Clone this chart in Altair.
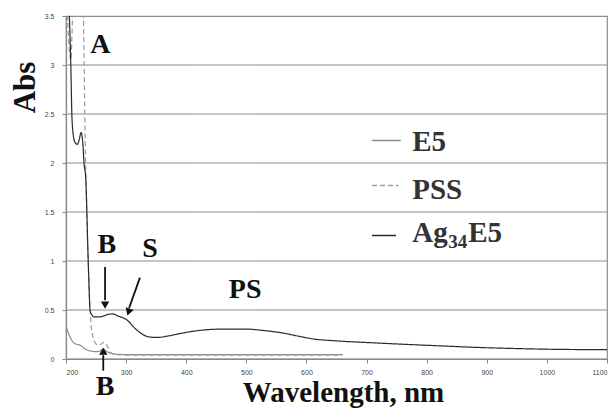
import altair as alt
import pandas as pd

# ---- data ----
ag_nm = [200, 205, 208, 210, 213, 216, 219, 222, 225, 228, 230, 233, 236, 238, 240, 243, 247,
         255, 263, 270, 278, 286, 295, 303, 312, 323, 338, 352, 370, 390, 420, 460, 500, 530,
         556, 585, 611, 650, 711, 800, 900, 960, 1000, 1100]
ag_abs = [4.0, 3.6, 3.0, 2.45, 2.25, 2.2, 2.19, 2.24, 2.31, 2.2, 2.0, 1.83, 1.2, 0.8, 0.5, 0.45, 0.43,
          0.43, 0.44, 0.455, 0.46, 0.44, 0.42, 0.39, 0.33, 0.27, 0.225, 0.22, 0.235, 0.26, 0.29, 0.305, 0.305, 0.29,
          0.27, 0.235, 0.205, 0.185, 0.165, 0.14, 0.115, 0.105, 0.1, 0.095]

e5_nm = [200, 203, 207, 212, 218, 224, 230, 236, 242, 250, 256, 262, 268, 274, 282, 300, 400, 500, 600, 660]
e5_abs = [0.33, 0.28, 0.22, 0.17, 0.15, 0.14, 0.11, 0.09, 0.08, 0.075, 0.08, 0.1, 0.075, 0.06, 0.05,
          0.045, 0.045, 0.045, 0.045, 0.045]

pss_nm = [200, 204, 208, 211, 214, 226, 229, 232, 235, 238, 241, 244, 248, 253, 258, 263, 268, 274,
          282, 300, 400, 500, 600, 660]
pss_abs = [4.0, 3.3, 3.05, 3.5, 4.0, 4.0, 3.5, 2.2, 1.4, 0.8, 0.4, 0.25, 0.17, 0.14, 0.15, 0.17, 0.14,
           0.07, 0.045, 0.04, 0.04, 0.04, 0.04, 0.04]

series_names = ["E5", "PSS", "Ag34E5"]
series_colors = ["#8a8a8a", "#9a9a9a", "#2a2a2a"]
series_dash = [[1, 0], [5, 3], [1, 0]]

y_ticks = [0, 0.5, 1, 1.5, 2, 2.5, 3, 3.5]
x_ticks = [200, 300, 400, 500, 600, 700, 800, 900, 1000, 1100]
x_range = [200, 1100]

# gridlines are drawn as extra grey series of the same line mark, one per y tick
grid_names = ["grid%d" % i for i in range(len(y_ticks))]

rows = []
for gname, yv in zip(grid_names, y_ticks):
    for i, xv in enumerate(x_range):
        rows.append({"series": gname, "nm": xv, "absv": yv, "order": i})
for name, xs, ys in [("E5", e5_nm, e5_abs), ("PSS", pss_nm, pss_abs), ("Ag34E5", ag_nm, ag_abs)]:
    for i, (a, b) in enumerate(zip(xs, ys)):
        rows.append({"series": name, "nm": a, "absv": b, "order": i})
df = pd.DataFrame(rows)

all_names = grid_names + series_names
all_colors = ["#8c8c8c"] * len(grid_names) + series_colors
all_dash = [[1, 0]] * len(grid_names) + series_dash

x_scale = alt.Scale(domain=[200, 1100], nice=False, zero=False)
y_scale = alt.Scale(domain=[0, 3.5], nice=False, zero=False)

X = alt.X("nm:Q", scale=x_scale, title="Wavelength, nm", axis=alt.Axis(values=x_ticks, format="d"))
Y = alt.Y("absv:Q", scale=y_scale, title="Abs", axis=alt.Axis(values=y_ticks, format="~g"))

color_enc = alt.Color("series:N", scale=alt.Scale(domain=all_names, range=all_colors), legend=None)
dash_enc = alt.StrokeDash("series:N", scale=alt.Scale(domain=all_names, range=all_dash), legend=None)
width_enc = alt.StrokeWidth("series:N", scale=alt.Scale(domain=all_names,
                            range=[1.2] * len(grid_names) + [1.6, 1.6, 1.6]), legend=None)

lines = alt.Chart(df).mark_line(clip=True, interpolate="monotone").encode(
    x=X, y=Y, color=color_enc, strokeDash=dash_enc, strokeWidth=width_enc,
    order="order:Q", detail="series:N")

# ---- annotations (data coordinates) ----
labels_df = pd.DataFrame({
    "txt": ["A", "B", "S", "PS", "B"],
    "nm": [257, 268, 340, 498, 265],
    "absv": [3.2, 1.16, 1.12, 0.70, -0.29],
})
labels = alt.Chart(labels_df).mark_text(
    font="Liberation Serif", fontSize=28, fontWeight="bold", color="#111",
    baseline="middle", align="center", clip=False
).encode(x=X, y=Y, text="txt:N")

arrows_df = pd.DataFrame({
    "nm": [265, 323, 262],
    "absv": [0.94, 0.83, -0.12],
    "x2": [265, 305, 262],
    "y2": [0.60, 0.52, 0.04],
})
arrow_lines = alt.Chart(arrows_df).mark_rule(color="#111", strokeWidth=1.8, clip=False).encode(
    x=X, y=Y, x2="x2:Q", y2="y2:Q")

heads_df = pd.DataFrame({
    "nm": [265, 304, 262],
    "absv": [0.55, 0.48, 0.08],
    "shape": ["triangle-down", "triangle-down", "triangle-up"],
    "ang": [0, 19, 0],
})
heads = alt.Chart(heads_df).mark_point(filled=True, color="#111", size=70, opacity=1, clip=False).encode(
    x=X, y=Y, shape=alt.Shape("shape:N", scale=None), angle=alt.Angle("ang:Q", scale=None))

# ---- legend (data coordinates) ----
leg_df = pd.DataFrame({
    "series": series_names,
    "nm": [709, 709, 709],
    "x2": [757, 753, 749],
    "absv": [2.23, 1.77, 1.26],
})
leg_lines = alt.Chart(leg_df).mark_rule(strokeWidth=1.6).encode(
    x=X, x2="x2:Q", y=Y, color=color_enc, strokeDash=dash_enc)

leg_text_df = pd.DataFrame({"txt": ["E5", "PSS", "Ag"], "nm": [776, 776, 776], "absv": [2.21, 1.72, 1.29]})
leg_text = alt.Chart(leg_text_df).mark_text(
    font="Liberation Serif", fontSize=29, fontWeight="bold", color="#333",
    align="left", baseline="middle"
).encode(x=X, y=Y, text="txt:N")

sub_df = pd.DataFrame({"txt": ["34"], "nm": [776], "absv": [1.29]})
leg_sub = alt.Chart(sub_df).mark_text(
    font="Liberation Serif", fontSize=19, fontWeight="bold", color="#333",
    align="left", baseline="middle", dx=36, dy=9
).encode(x=X, y=Y, text="txt:N")

tail_df = pd.DataFrame({"txt": ["E5"], "nm": [776], "absv": [1.29]})
leg_tail = alt.Chart(tail_df).mark_text(
    font="Liberation Serif", fontSize=29, fontWeight="bold", color="#333",
    align="left", baseline="middle", dx=56
).encode(x=X, y=Y, text="txt:N")

chart = alt.layer(lines, leg_lines, leg_text, leg_sub, leg_tail, arrow_lines, heads, labels).properties(
    width=541, height=343,
    autosize=alt.AutoSizeParams(type="none"),
    padding={"left": 66, "top": 16, "right": 9, "bottom": 53},
).configure_view(stroke="#8c8c8c", strokeWidth=1.2
).configure_axis(
    labelFont="Liberation Sans", labelFontSize=7, labelColor="#444",
    tickSize=4, tickColor="#888", domainColor="#888", domainWidth=1.2,
    titleFont="Liberation Serif", titleFontWeight="bold", titleColor="#111",
).configure_axisY(
    grid=False, labelPadding=8,
    titleFontSize=31, titleAngle=270, titleX=-41, titleY=71, titleBaseline="middle",
    titleAlign="center", titleAnchor="start",
).configure_axisX(
    grid=False, labelPadding=5,
    titleFontSize=29, titleX=277, titleY=42, titleBaseline="alphabetic",
    titleAlign="center", titleAnchor="start",
)

chart.save("out.html", embed_options={"renderer": "svg", "actions": False})
